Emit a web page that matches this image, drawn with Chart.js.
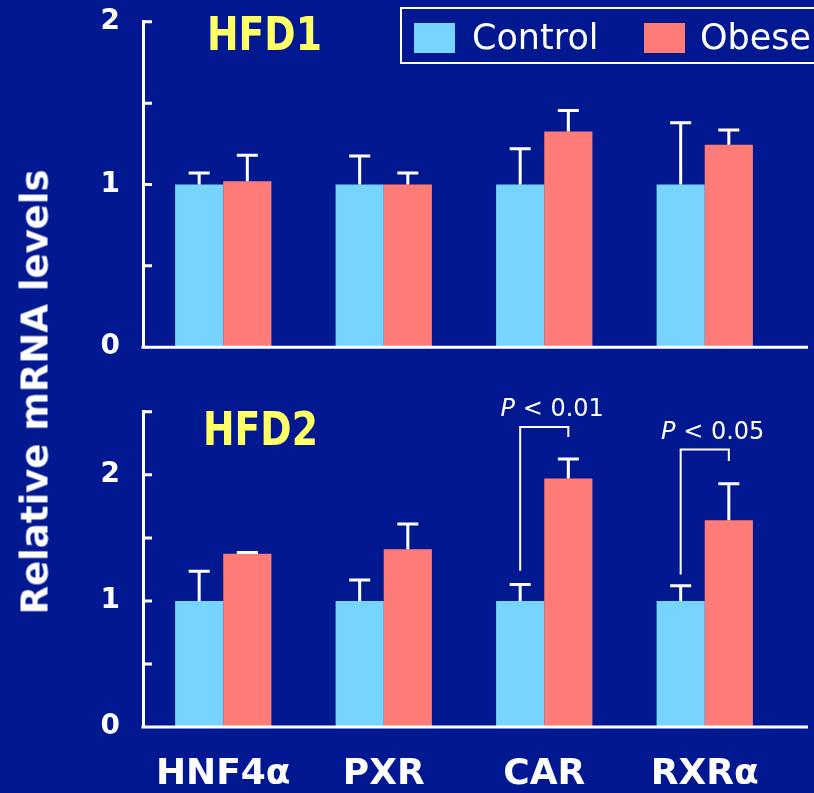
<!DOCTYPE html>
<html>
<head>
<meta charset="utf-8">
<script src="https://cdn.jsdelivr.net/npm/chart.js@4"></script>
<style>
  html,body{margin:0;padding:0;background:#021890;width:814px;height:793px;overflow:hidden;font-family:"DejaVu Sans",sans-serif;}
  .cv{position:absolute;left:0;}
  #top{top:-18px;}
  #bot{top:372px;}
  .title{position:absolute;color:#FFFF66;font-weight:bold;font-size:46px;line-height:1;transform:scale(0.82,1);transform-origin:0 0;}
  #ytitle{position:absolute;left:35px;top:392px;transform:translate(-50%,-50%) rotate(-90deg);color:#fff;font-weight:bold;font-size:37px;white-space:nowrap;}
  #legend{position:absolute;left:400px;top:7px;width:440px;height:57px;border:2px solid #fff;box-sizing:border-box;}
  .sw{position:absolute;top:14px;width:41px;height:30px;}
  .lt{position:absolute;top:8px;color:#fff;font-size:35px;line-height:40px;}
</style>
</head>
<body>
<canvas id="top" class="cv" width="814" height="405"></canvas>
<canvas id="bot" class="cv" width="814" height="421"></canvas>
<div class="title" style="left:207px;top:11px;">HFD1</div>
<div class="title" style="left:203px;top:406px;">HFD2</div>
<div id="ytitle">Relative mRNA levels</div>
<div id="legend"></div>
<script>
const categories = ['HNF4\u03B1', 'PXR', 'CAR', 'RXR\u03B1'];
const seriesLabels = ['Control', 'Obese'];
const seriesColors = ['#77D4FE', '#FE7B77'];

const hfd1Control    = [1.00, 1.00, 1.00, 1.00];
const hfd1ControlErr = [0.07, 0.175, 0.22, 0.38];
const hfd1Obese      = [1.02, 1.00, 1.325, 1.245];
const hfd1ObeseErr   = [0.16, 0.07, 0.13, 0.09];

const hfd2Control    = [1.00, 1.00, 1.00, 1.00];
const hfd2ControlErr = [0.235, 0.165, 0.13, 0.12];
const hfd2Obese      = [1.375, 1.41, 1.97, 1.64];
const hfd2ObeseErr   = [0.01, 0.20, 0.155, 0.29];

const hfd1Ticks = [0, 1, 2];
const hfd2Ticks = [0, 1, 2];

// significance brackets (bottom panel): category index, bracket top, left/right start values, label
const brackets = [
  {cat: 2, top: 2.38, leftFrom: 1.24, rightFrom: 2.30, p: '< 0.01'},
  {cat: 3, top: 2.20, leftFrom: 1.21, rightFrom: 2.11, p: '< 0.05'}
];

// legend
const lg = document.getElementById('legend');
const swX = [12, 242], txX = [70, 298];
seriesLabels.forEach((s, i) => {
  const sw = document.createElement('div'); sw.className = 'sw';
  sw.style.left = swX[i] + 'px'; sw.style.background = seriesColors[i]; lg.appendChild(sw);
  const t = document.createElement('div'); t.className = 'lt';
  t.style.left = txX[i] + 'px'; t.textContent = s; lg.appendChild(t);
});

const errorBars = {
  id: 'errorBars',
  afterDatasetsDraw(chart) {
    const ctx = chart.ctx, y = chart.scales.y;
    chart.data.datasets.forEach((ds, i) => {
      const meta = chart.getDatasetMeta(i);
      meta.data.forEach((bar, j) => {
        const v = ds.data[j], e = ds.errors[j];
        const yb = y.getPixelForValue(v), yt = y.getPixelForValue(v + e);
        ctx.save();
        ctx.strokeStyle = '#fff'; ctx.lineWidth = 3;
        ctx.beginPath();
        ctx.moveTo(bar.x, yb); ctx.lineTo(bar.x, yt);
        ctx.moveTo(bar.x - 10.5, yt); ctx.lineTo(bar.x + 10.5, yt);
        ctx.stroke();
        ctx.restore();
      });
    });
  }
};

const axisDeco = {
  id: 'axisDeco',
  afterDraw(chart) {
    const ctx = chart.ctx, y = chart.scales.y, a = chart.chartArea;
    ctx.save();
    ctx.strokeStyle = '#fff'; ctx.lineWidth = 3;
    ctx.beginPath();
    y.ticks.forEach(t => {
      const p = y.getPixelForValue(t.value);
      ctx.moveTo(a.left, p); ctx.lineTo(a.left + 9, p);
    });
    const p0 = y.getPixelForValue(0);
    ctx.moveTo(a.left - 1.5, p0); ctx.lineTo(808, p0);
    ctx.stroke();
    ctx.restore();
  }
};

const bracketPlugin = {
  id: 'brackets',
  afterDraw(chart) {
    const ctx = chart.ctx, y = chart.scales.y;
    const m0 = chart.getDatasetMeta(0), m1 = chart.getDatasetMeta(1);
    ctx.save();
    ctx.strokeStyle = '#fff'; ctx.lineWidth = 2; ctx.fillStyle = '#fff';
    brackets.forEach(b => {
      const xl = m0.data[b.cat].x, xr = m1.data[b.cat].x;
      const yt = y.getPixelForValue(b.top);
      ctx.beginPath();
      ctx.moveTo(xl, y.getPixelForValue(b.leftFrom)); ctx.lineTo(xl, yt);
      ctx.lineTo(xr, yt); ctx.lineTo(xr, y.getPixelForValue(b.rightFrom));
      ctx.stroke();
      ctx.textBaseline = 'middle';
      ctx.font = 'italic 24px "DejaVu Sans"';
      const wP = ctx.measureText('P').width;
      ctx.font = '24px "DejaVu Sans"';
      const rest = ' ' + b.p;
      const wR = ctx.measureText(rest).width;
      const cx = (xl + xr) / 2 + 8;
      const x0 = cx - (wP + wR) / 2, ty = yt - 17;
      ctx.font = 'italic 24px "DejaVu Sans"';
      ctx.fillText('P', x0, ty);
      ctx.font = '24px "DejaVu Sans"';
      ctx.fillText(rest, x0 + wP, ty);
    });
    ctx.restore();
  }
};

function makeChart(id, ctrl, ctrlErr, ob, obErr, yMax, labelTicks, showX, pad, extra) {
  return new Chart(document.getElementById(id), {
    type: 'bar',
    data: {
      labels: categories,
      datasets: [
        {label: seriesLabels[0], data: ctrl, errors: ctrlErr, backgroundColor: seriesColors[0], borderWidth: 0},
        {label: seriesLabels[1], data: ob, errors: obErr, backgroundColor: seriesColors[1], borderWidth: 0}
      ]
    },
    options: {
      responsive: false,
      animation: false,
      events: [],
      layout: {padding: pad},
      categoryPercentage: 0.6,
      barPercentage: 1.0,
      plugins: {legend: {display: false}, tooltip: {enabled: false}},
      scales: {
        x: {
          grid: {display: false, drawTicks: false},
          border: {display: false},
          ticks: {display: showX, color: '#fff', padding: 26, font: {family: 'DejaVu Sans', size: 36, weight: 'bold'}, maxRotation: 0},
          afterFit(s) { s.height = showX ? 66 : 0; }
        },
        y: {
          min: 0, max: yMax,
          grid: {display: false, drawTicks: false},
          border: {display: true, color: '#fff', width: 3},
          ticks: {
            stepSize: 0.5, color: '#fff', padding: 23,
            font: {family: 'DejaVu Sans', size: 28, weight: 'bold'},
            callback: v => labelTicks.includes(v) ? String(v) : ''
          },
          afterFit(s) { s.width = 143; }
        }
      }
    },
    plugins: [errorBars, axisDeco].concat(extra)
  });
}

makeChart('top', hfd1Control, hfd1ControlErr, hfd1Obese, hfd1ObeseErr, 2, hfd1Ticks, false,
  {left: 0, right: 29, top: 0, bottom: 0}, []);
makeChart('bot', hfd2Control, hfd2ControlErr, hfd2Obese, hfd2ObeseErr, 2.5, hfd2Ticks, true,
  {left: 0, right: 29, top: 0, bottom: 0}, [bracketPlugin]);
</script>
</body>
</html>
